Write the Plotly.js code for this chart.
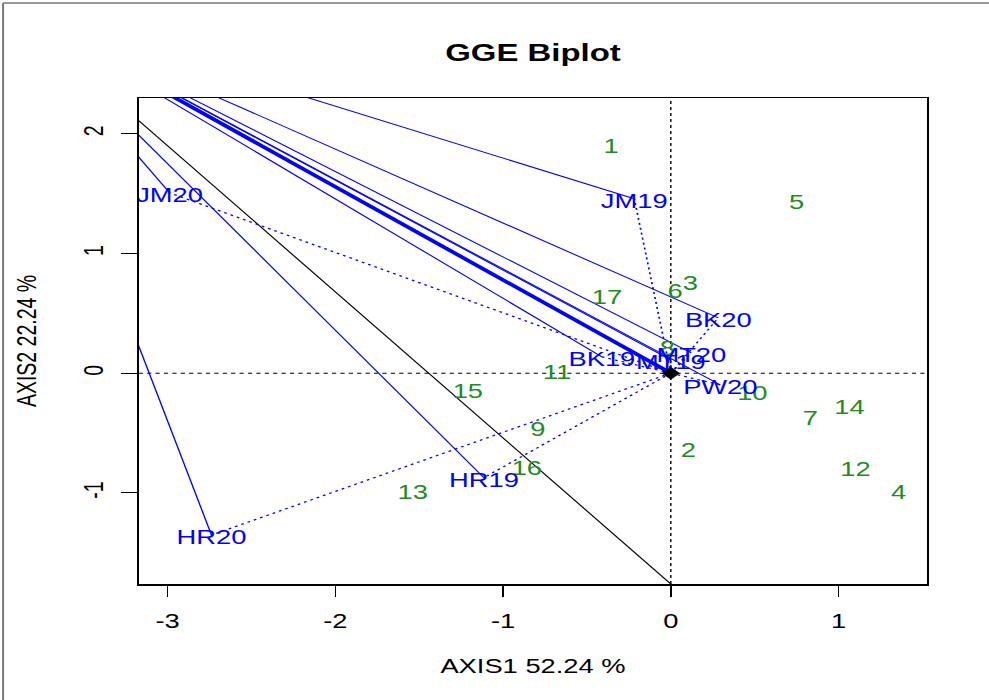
<!DOCTYPE html>
<html><head><meta charset="utf-8">
<script src="https://cdn.plot.ly/plotly-3.0.1.min.js"></script>
<style>
html,body{margin:0;padding:0;background:#fff;overflow:hidden;}
#wrap{position:absolute;left:0;top:0;width:989px;height:700px;overflow:hidden;background:#fff;}
#chart{position:absolute;left:0;top:0;width:706px;height:700px;transform-origin:0 0;transform:scaleX(1.4008);}
</style></head><body>
<div id="wrap"><div id="chart"></div></div>
<script>
// ---- data ----
const genotypeLabels = ["1","2","3","4","5","6","7","8","9","10","11","12","13","14","15","16","17"];
const genotypeX = [-0.356, 0.104, 0.116, 1.358, 0.749, 0.026, 0.832, -0.021, -0.792, 0.486, -0.678, 1.101, -1.538, 1.065, -1.210, -0.858, -0.380];
const genotypeY = [1.883, -0.658, 0.738, -1.009, 1.415, 0.671, -0.390, 0.195, -0.482, -0.181, -0.006, -0.817, -1.009, -0.298, -0.165, -0.809, 0.621];

const envLabels = ["JM19","JM20","HR19","HR20","BK19","BK20","MT19","MT20","PW20"];
const envX = [-0.218, -2.988, -1.114, -2.738, -0.411, 0.283, 0.000, 0.122, 0.295];
const envY = [1.457, 1.506, -0.873, -1.352, 0.136, 0.462, 0.111, 0.170, -0.098];

// point where the solid environment lines meet (outside the plotted window)
const meetX = [-3.955];
const meetY = [3.078];

// black reference line (two points on it)
const blackLineX = [-3.4, 0.1];
const blackLineY = [2.387, -1.883];

const originX = [0];
const originY = [0];

const xTickVals = [-3, -2, -1, 0, 1];
const yTickVals = [-1, 0, 1, 2];
const xRange = [-3.172, 1.529];
const yRange = [-1.761, 2.298];

const chartTitle = "GGE Biplot";
const xTitle = "AXIS1 52.24 %";
const yTitle = "AXIS2 22.24 %";

// ---- build traces ----
const FONT = '"Liberation Sans", Arial, Helvetica, sans-serif';
const BLUE = '#0000FF';
const GREEN = '#228B22';

function segs(x0s, y0s, x1s, y1s) {
  const xs = [], ys = [];
  for (let i = 0; i < x0s.length; i++) {
    xs.push(x0s[i], x1s[i], null);
    ys.push(y0s[i], y1s[i], null);
  }
  return {x: xs, y: ys};
}

const W = 706, H = 700, ML = 99, MR = 44, MT = 98, MB = 116;
const PW = W - ML - MR, PH = H - MT - MB;
const pxPerUnitY = PH / (yRange[1] - yRange[0]);
// R draws the text slightly below the point it labels
const labelDropPx = 4;
const envLabelY = envY.map(v => v - labelDropPx / pxPerUnitY);

const zerosX = envX.map(() => originX[0]);
const zerosY = envY.map(() => originY[0]);
const meetXs = envX.map(() => meetX[0]);
const meetYs = envY.map(() => meetY[0]);

const dotted = segs(zerosX, zerosY, envX, envY);
const solid = segs(envX, envY, meetXs, meetYs);

const traces = [
  {type:'scatter', mode:'lines', x: blackLineX, y: blackLineY,
   line:{color:'black', width:1}, hoverinfo:'skip', showlegend:false},
  {type:'scatter', mode:'lines', x: dotted.x, y: dotted.y, connectgaps:false,
   line:{color:BLUE, width:1.2, dash:'2px,3px'}, hoverinfo:'skip', showlegend:false},
  {type:'scatter', mode:'lines', x: solid.x, y: solid.y, connectgaps:false,
   line:{color:BLUE, width:1}, hoverinfo:'skip', showlegend:false},
  {type:'scatter', mode:'lines', x: [originX[0], meetX[0]], y: [originY[0], meetY[0]],
   line:{color:BLUE, width:3.4}, hoverinfo:'skip', showlegend:false},
  {type:'scatter', mode:'text', x: genotypeX, y: genotypeY, text: genotypeLabels,
   textposition:'middle center', textfont:{family:FONT, size:19.5, color:GREEN},
   hoverinfo:'text', showlegend:false},
  {type:'scatter', mode:'text', x: envX, y: envLabelY, text: envLabels,
   textposition:'middle center', textfont:{family:FONT, size:19.5, color:BLUE},
   hoverinfo:'text', showlegend:false},
  {type:'scatter', mode:'markers', x: originX, y: originY,
   marker:{symbol:'diamond', size:10, color:'black'}, hoverinfo:'skip', showlegend:false}
];

const px2paperX = p => (p - ML) / PW;
const px2paperY = p => (H - MB - p) / PH;

const layout = {
  width: W, height: H,
  margin: {l: ML, r: MR, t: MT, b: MB, pad: 0},
  paper_bgcolor: 'white', plot_bgcolor: 'white',
  font: {family: FONT, size: 19.5, color: 'black'},
  title: {text: chartTitle, font: {family: FONT, size: 23.5, weight: 'bold', color:'black'},
          x: 0.5, xref: 'paper', xanchor: 'center', y: 1 - 53/700, yref: 'container', yanchor: 'middle'},
  xaxis: {range: xRange, tickmode: 'array', tickvals: xTickVals, ticktext: xTickVals.map(String),
          ticks: 'outside', ticklen: 11, tickwidth: 1, tickcolor: 'black',
          showline: true, mirror: true, linecolor: 'black', linewidth: 1.5,
          showgrid: false, zeroline: false, fixedrange: true,
          tickfont: {family: FONT, size: 19.5, color: 'black'},
          ticklabelstandoff: 8,
          title: {text: xTitle, font: {family: FONT, size: 19.5, color: 'black'}, standoff: 28}},
  yaxis: {range: yRange, tickmode: 'array', tickvals: yTickVals, ticktext: yTickVals.map(String),
          ticks: 'outside', ticklen: 11, tickwidth: 1, tickcolor: 'black',
          showline: true, mirror: true, linecolor: 'black', linewidth: 1.5,
          showgrid: false, zeroline: false, fixedrange: true, tickangle: -90,
          tickfont: {family: FONT, size: 19.5, color: 'black'},
          ticklabelstandoff: 5,
          title: {text: yTitle, font: {family: FONT, size: 19.5, color: 'black'}, standoff: 24}},
  shapes: [
    {type:'line', xref:'x', yref:'paper', x0:0, x1:0, y0:0, y1:1, layer:'below',
     line:{color:'black', width:1, dash:'dot'}},
    {type:'line', xref:'paper', yref:'y', x0:0, x1:1, y0:0, y1:0, layer:'below',
     line:{color:'black', width:1, dash:'dot'}},
    {type:'line', xref:'paper', yref:'paper', x0:px2paperX(2.2), x1:px2paperX(2.2),
     y0:px2paperY(3), y1:px2paperY(710), line:{color:'#777777', width:1.4}},
    {type:'line', xref:'paper', yref:'paper', x0:px2paperX(2.2), x1:px2paperX(720),
     y0:px2paperY(3), y1:px2paperY(3), line:{color:'#777777', width:1.4}}
  ],
  showlegend: false
};

Plotly.newPlot('chart', traces, layout, {displayModeBar: false, staticPlot: true});
</script>
</body></html>
